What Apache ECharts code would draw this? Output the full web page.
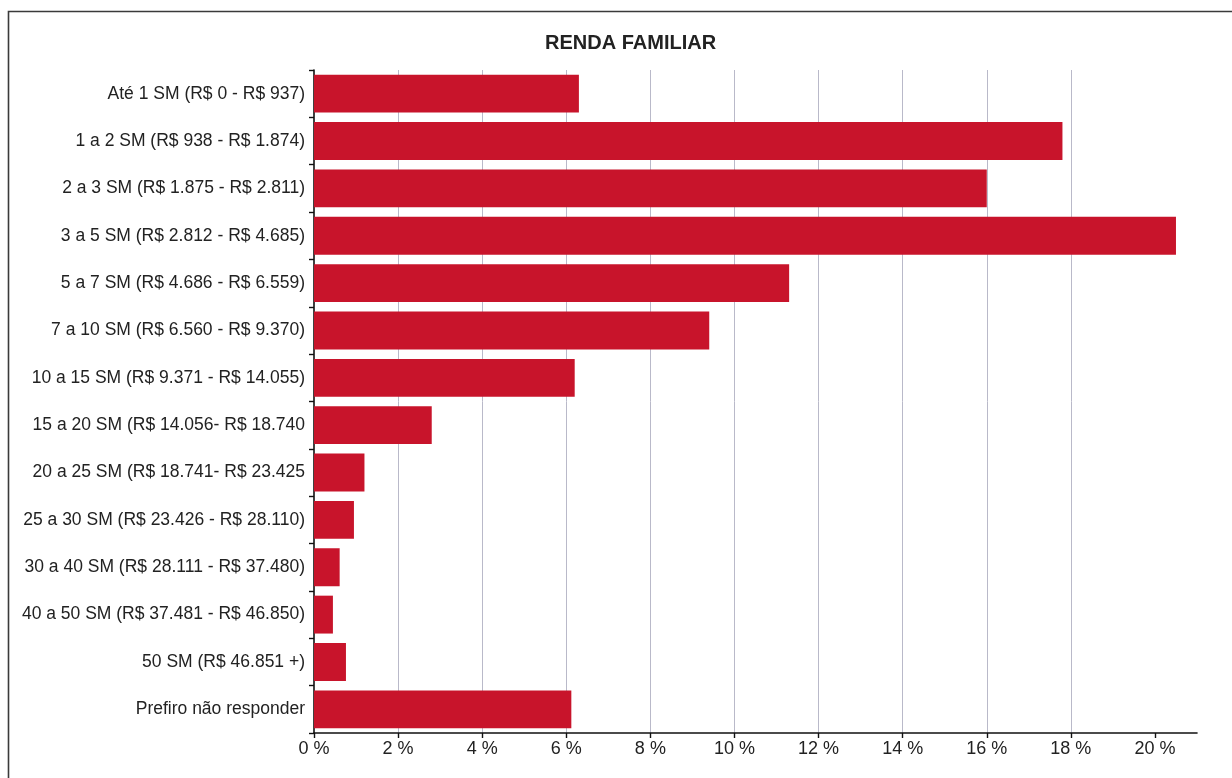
<!DOCTYPE html>
<html>
<head>
<meta charset="utf-8">
<script src="https://cdn.jsdelivr.net/npm/echarts@6/dist/echarts.min.js"></script>
<style>
html,body{margin:0;padding:0;background:#fff;}
#chart{width:1232px;height:778px;}
</style>
</head>
<body>
<div id="chart"></div>
<script>
const titleText = 'RENDA FAMILIAR';
const categories = [
  'Até 1 SM (R$ 0 - R$ 937)',
  '1 a 2 SM (R$ 938 - R$ 1.874)',
  '2 a 3 SM (R$ 1.875 - R$ 2.811)',
  '3 a 5 SM (R$ 2.812 - R$ 4.685)',
  '5 a 7 SM (R$ 4.686 - R$ 6.559)',
  '7 a 10 SM (R$ 6.560 - R$ 9.370)',
  '10 a 15 SM (R$ 9.371 - R$ 14.055)',
  '15 a 20 SM (R$ 14.056- R$ 18.740',
  '20 a 25 SM (R$ 18.741- R$ 23.425',
  '25 a 30 SM (R$ 23.426 - R$ 28.110)',
  '30 a 40 SM (R$ 28.111 - R$ 37.480)',
  '40 a 50 SM (R$ 37.481 - R$ 46.850)',
  '50 SM (R$ 46.851 +)',
  'Prefiro não responder'
];
const values = [6.3, 17.8, 16.0, 20.5, 11.3, 9.4, 6.2, 2.8, 1.2, 0.95, 0.61, 0.45, 0.76, 6.12];
const tickValues = [0, 2, 4, 6, 8, 10, 12, 14, 16, 18, 20];

const chart = echarts.init(document.getElementById('chart'));
chart.setOption({
  backgroundColor: '#ffffff',
  animation: false,
  title: {
    text: titleText,
    left: 540,
    top: 28,
    textStyle: {fontFamily: 'Liberation Sans, Arial, sans-serif', fontSize: 20, fontWeight: 'bold', color: '#222'}
  },
  graphic: [{
    type: 'rect',
    shape: {x: 8.5, y: 11.5, width: 1400, height: 900},
    style: {fill: 'none', stroke: '#3a3a3a', lineWidth: 1.6},
    silent: true
  }],
  grid: {left: 314, right: 35, top: 70, bottom: 45, containLabel: false},
  xAxis: {
    type: 'value',
    min: 0,
    max: 21,
    interval: 2,
    axisLine: {show: true, lineStyle: {color: '#111', width: 1.6}},
    axisTick: {show: true, length: 5, customValues: tickValues, lineStyle: {color: '#111', width: 1.4}},
    axisLabel: {
      customValues: tickValues,
      margin: 7,
      fontFamily: 'Liberation Sans, Arial, sans-serif',
      fontSize: 18,
      color: '#222',
      formatter: v => v + ' %'
    },
    splitLine: {show: true, showMinLine: false, showMaxLine: false, lineStyle: {color: '#b9b9c9', width: 1}}
  },
  yAxis: {
    type: 'category',
    data: categories,
    inverse: true,
    axisLine: {show: true, lineStyle: {color: '#111', width: 1.6}},
    axisTick: {show: true, length: 5, lineStyle: {color: '#111', width: 1.4}},
    axisLabel: {
      margin: 9,
      fontFamily: 'Liberation Sans, Arial, sans-serif',
      fontSize: 17.5,
      color: '#222'
    },
    splitLine: {show: false}
  },
  series: [{
    type: 'bar',
    data: values,
    barCategoryGap: '20%',
    itemStyle: {color: '#c8142b'}
  }]
});
</script>
</body>
</html>
